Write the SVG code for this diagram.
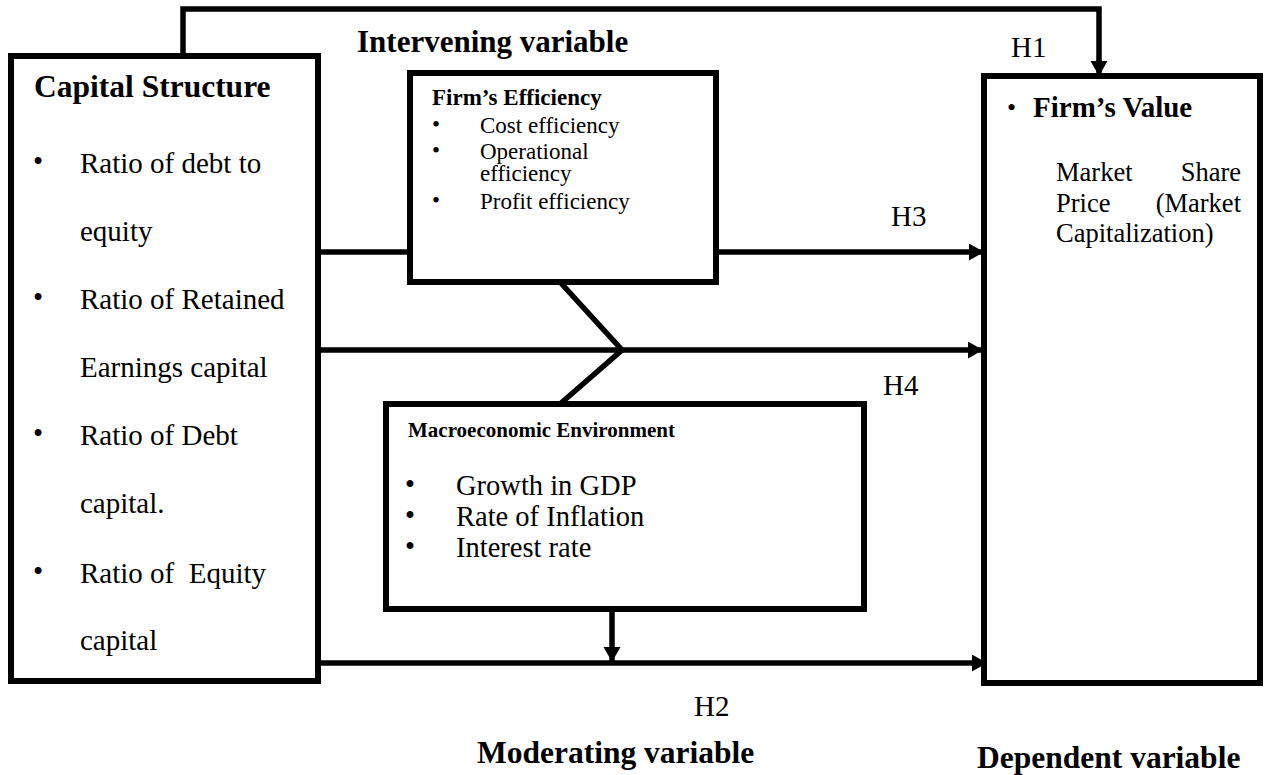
<svg xmlns="http://www.w3.org/2000/svg" width="1267" height="775" viewBox="0 0 1267 775">
<defs>
<style>
.b { font-weight: bold; }
.box { fill: none; stroke: #000; stroke-width: 6; }
.ln { fill: none; stroke: #000; stroke-width: 5.5; }
.t29 { font-size: 29px; }
.t31 { font-size: 31px; }
</style>
<marker id="ah" markerUnits="userSpaceOnUse" markerWidth="16" markerHeight="18" refX="15" refY="8.5" orient="auto">
<path d="M0,0 L15,8.5 L0,17 z" fill="#000"/>
</marker>
</defs>
<rect width="1267" height="775" fill="#fff"/>

<g id="connectors">
<polyline class="ln" points="183,56 183,9 1099,9 1099,62" />
<line class="ln" x1="1099" y1="60" x2="1099" y2="76" marker-end="url(#ah)"/>
<line class="ln" x1="318" y1="252" x2="410" y2="252"/>
<line class="ln" x1="716" y1="252" x2="984" y2="252" marker-end="url(#ah)"/>
<line class="ln" x1="318" y1="350" x2="983" y2="350" marker-end="url(#ah)"/>
<polyline class="ln" points="560,282 622,350 560,404"/>
<line class="ln" x1="316" y1="663" x2="987" y2="663" marker-end="url(#ah)"/>
<line class="ln" x1="612" y1="609" x2="612" y2="662" marker-end="url(#ah)"/>
</g>

<g font-family="'Liberation Serif', 'DejaVu Serif', serif" fill="#000">
<g id="capital-structure">
<rect class="box" x="11" y="56" width="307" height="625"/>
<text class="b" x="34" y="97" font-size="31.5">Capital Structure</text>
<g class="t29">
<text x="33" y="171">•</text>
<text x="80" y="173">Ratio of debt to</text>
<text x="80" y="241">equity</text>
<text x="33" y="307">•</text>
<text x="80" y="309">Ratio of Retained</text>
<text x="80" y="377">Earnings capital</text>
<text x="33" y="443">•</text>
<text x="80" y="445">Ratio of Debt</text>
<text x="80" y="513">capital.</text>
<text x="33" y="581">•</text>
<text x="80" y="583" xml:space="preserve">Ratio of  Equity</text>
<text x="80" y="650">capital</text>
</g>
</g>

<g id="intervening-label">
<text class="b t31" x="357" y="52">Intervening variable</text>
</g>

<g id="firms-efficiency">
<rect class="box" x="410" y="73" width="306" height="209"/>
<text class="b" x="432" y="105" font-size="23">Firm’s Efficiency</text>
<g font-size="23">
<text x="432" y="132">•</text>
<text x="480" y="133">Cost efficiency</text>
<text x="432" y="158">•</text>
<text x="480" y="159">Operational</text>
<text x="480" y="181">efficiency</text>
<text x="432" y="208">•</text>
<text x="480" y="209">Profit efficiency</text>
</g>
</g>

<g id="macroeconomic-environment">
<rect class="box" x="386" y="404" width="478" height="205"/>
<text class="b" x="408" y="437" font-size="21">Macroeconomic Environment</text>
<g font-size="28.5">
<text x="405" y="494">•</text>
<text x="456" y="495">Growth in GDP</text>
<text x="405" y="525">•</text>
<text x="456" y="526">Rate of Inflation</text>
<text x="405" y="556">•</text>
<text x="456" y="557">Interest rate</text>
</g>
</g>

<g id="firms-value">
<rect class="box" x="984" y="76" width="276" height="607"/>
<text x="1007" y="116" font-size="26">•</text>
<text class="b" x="1033" y="117" font-size="29">Firm’s Value</text>
<g font-size="26.5">
<text x="1056" y="181">Market</text>
<text x="1241" y="181" text-anchor="end">Share</text>
<text x="1056" y="212">Price</text>
<text x="1241" y="212" text-anchor="end">(Market</text>
<text x="1056" y="242">Capitalization)</text>
</g>
</g>

<g id="labels">
<text class="t29" x="1011" y="57">H1</text>
<text class="t29" x="891" y="226">H3</text>
<text class="t29" x="883" y="395">H4</text>
<text class="t29" x="694" y="716">H2</text>
<text class="b" x="477" y="763" font-size="31.5">Moderating variable</text>
<text class="b" x="977" y="768" font-size="31.5">Dependent variable</text>
</g>
</g>
</svg>
